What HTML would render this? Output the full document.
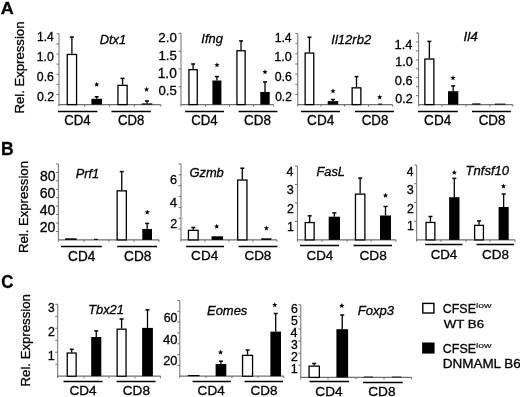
<!DOCTYPE html>
<html><head><meta charset="utf-8"><style>
html,body{margin:0;padding:0;background:#fff;width:520px;height:397px;overflow:hidden}
svg{display:block}
text{font-family:"Liberation Sans",sans-serif;fill:#000;stroke:#000;stroke-width:0.3px}
svg{filter:grayscale(1)}
</style></head><body>
<svg width="520" height="397" viewBox="0 0 520 397">
<rect width="520" height="397" fill="#fff"/>
<line x1="59.00" y1="33.80" x2="59.00" y2="106.40" stroke="#707070" stroke-width="1"/>
<line x1="58.50" y1="104.60" x2="160.80" y2="104.60" stroke="#707070" stroke-width="1.2"/>
<line x1="56.50" y1="94.49" x2="59.00" y2="94.49" stroke="#707070" stroke-width="1"/>
<line x1="56.50" y1="84.37" x2="59.00" y2="84.37" stroke="#707070" stroke-width="1"/>
<line x1="56.50" y1="74.26" x2="59.00" y2="74.26" stroke="#707070" stroke-width="1"/>
<line x1="56.50" y1="64.14" x2="59.00" y2="64.14" stroke="#707070" stroke-width="1"/>
<line x1="56.50" y1="54.03" x2="59.00" y2="54.03" stroke="#707070" stroke-width="1"/>
<line x1="56.50" y1="43.91" x2="59.00" y2="43.91" stroke="#707070" stroke-width="1"/>
<line x1="56.50" y1="33.80" x2="59.00" y2="33.80" stroke="#707070" stroke-width="1"/>
<line x1="84.60" y1="104.60" x2="84.60" y2="106.60" stroke="#707070" stroke-width="1"/>
<line x1="109.60" y1="104.60" x2="109.60" y2="106.60" stroke="#707070" stroke-width="1"/>
<line x1="134.30" y1="104.60" x2="134.30" y2="106.60" stroke="#707070" stroke-width="1"/>
<line x1="160.80" y1="104.60" x2="160.80" y2="106.60" stroke="#707070" stroke-width="1"/>
<line x1="71.90" y1="53.80" x2="71.90" y2="37.00" stroke="#000" stroke-width="1.3"/>
<line x1="69.90" y1="37.00" x2="73.90" y2="37.00" stroke="#000" stroke-width="1.5"/>
<rect x="67.25" y="54.45" width="9.30" height="50.15" fill="#fff" stroke="#000" stroke-width="1.3"/>
<line x1="96.70" y1="98.80" x2="96.70" y2="96.80" stroke="#000" stroke-width="1.3"/>
<line x1="94.70" y1="96.80" x2="98.70" y2="96.80" stroke="#000" stroke-width="1.5"/>
<rect x="91.40" y="98.80" width="10.60" height="5.80" fill="#000"/>
<line x1="122.55" y1="84.70" x2="122.55" y2="78.40" stroke="#000" stroke-width="1.3"/>
<line x1="120.55" y1="78.40" x2="124.55" y2="78.40" stroke="#000" stroke-width="1.5"/>
<rect x="117.95" y="85.35" width="9.20" height="19.25" fill="#fff" stroke="#000" stroke-width="1.3"/>
<line x1="147.00" y1="103.40" x2="147.00" y2="101.00" stroke="#000" stroke-width="1.3"/>
<line x1="145.00" y1="101.00" x2="149.00" y2="101.00" stroke="#000" stroke-width="1.5"/>
<rect x="141.70" y="103.40" width="10.60" height="1.20" fill="#000"/>
<polygon points="96.70,81.70 97.39,83.55 99.36,83.63 97.82,84.86 98.35,86.77 96.70,85.68 95.05,86.77 95.58,84.86 94.04,83.63 96.01,83.55" fill="#000"/>
<polygon points="146.60,86.70 147.29,88.55 149.26,88.63 147.72,89.86 148.25,91.77 146.60,90.68 144.95,91.77 145.48,89.86 143.94,88.63 145.91,88.55" fill="#000"/>
<line x1="58.00" y1="111.50" x2="97.40" y2="111.50" stroke="#000" stroke-width="1.4"/>
<line x1="111.50" y1="111.50" x2="150.90" y2="111.50" stroke="#000" stroke-width="1.4"/>
<text transform="translate(64.14,124.96) scale(0.944,1)" font-size="13.99">CD4</text>
<text transform="translate(118.04,124.96) scale(0.940,1)" font-size="13.99">CD8</text>
<text transform="translate(99.71,44.27) scale(0.969,1)" font-size="13.33" font-style="italic">Dtx1</text>
<text x="36.95" y="40.85" font-size="12.07">1.4</text>
<text x="36.77" y="61.23" font-size="12.30">1.0</text>
<text x="36.83" y="81.23" font-size="12.30">0.6</text>
<text x="36.92" y="100.73" font-size="12.30">0.2</text>
<line x1="181.00" y1="33.40" x2="181.00" y2="106.40" stroke="#707070" stroke-width="1"/>
<line x1="180.50" y1="104.60" x2="273.60" y2="104.60" stroke="#707070" stroke-width="1.2"/>
<line x1="178.50" y1="86.80" x2="181.00" y2="86.80" stroke="#707070" stroke-width="1"/>
<line x1="178.50" y1="69.00" x2="181.00" y2="69.00" stroke="#707070" stroke-width="1"/>
<line x1="178.50" y1="51.20" x2="181.00" y2="51.20" stroke="#707070" stroke-width="1"/>
<line x1="178.50" y1="33.40" x2="181.00" y2="33.40" stroke="#707070" stroke-width="1"/>
<line x1="205.50" y1="104.60" x2="205.50" y2="106.60" stroke="#707070" stroke-width="1"/>
<line x1="229.50" y1="104.60" x2="229.50" y2="106.60" stroke="#707070" stroke-width="1"/>
<line x1="253.50" y1="104.60" x2="253.50" y2="106.60" stroke="#707070" stroke-width="1"/>
<line x1="273.60" y1="104.60" x2="273.60" y2="106.60" stroke="#707070" stroke-width="1"/>
<line x1="193.10" y1="69.00" x2="193.10" y2="64.00" stroke="#000" stroke-width="1.3"/>
<line x1="191.10" y1="64.00" x2="195.10" y2="64.00" stroke="#000" stroke-width="1.5"/>
<rect x="188.95" y="69.65" width="8.30" height="34.95" fill="#fff" stroke="#000" stroke-width="1.3"/>
<line x1="216.90" y1="80.50" x2="216.90" y2="76.60" stroke="#000" stroke-width="1.3"/>
<line x1="214.90" y1="76.60" x2="218.90" y2="76.60" stroke="#000" stroke-width="1.5"/>
<rect x="212.40" y="80.50" width="9.00" height="24.10" fill="#000"/>
<line x1="241.05" y1="50.10" x2="241.05" y2="40.90" stroke="#000" stroke-width="1.3"/>
<line x1="239.05" y1="40.90" x2="243.05" y2="40.90" stroke="#000" stroke-width="1.5"/>
<rect x="236.95" y="50.75" width="8.20" height="53.85" fill="#fff" stroke="#000" stroke-width="1.3"/>
<line x1="265.00" y1="92.00" x2="265.00" y2="81.90" stroke="#000" stroke-width="1.3"/>
<line x1="263.00" y1="81.90" x2="267.00" y2="81.90" stroke="#000" stroke-width="1.5"/>
<rect x="260.30" y="92.00" width="9.40" height="12.60" fill="#000"/>
<polygon points="217.00,62.20 217.69,64.05 219.66,64.13 218.12,65.36 218.65,67.27 217.00,66.18 215.35,67.27 215.88,65.36 214.34,64.13 216.31,64.05" fill="#000"/>
<polygon points="265.00,69.20 265.69,71.05 267.66,71.13 266.12,72.36 266.65,74.27 265.00,73.18 263.35,74.27 263.88,72.36 262.34,71.13 264.31,71.05" fill="#000"/>
<line x1="185.10" y1="111.50" x2="224.00" y2="111.50" stroke="#000" stroke-width="1.4"/>
<line x1="238.60" y1="111.50" x2="277.40" y2="111.50" stroke="#000" stroke-width="1.4"/>
<text transform="translate(191.14,124.96) scale(0.948,1)" font-size="13.99">CD4</text>
<text transform="translate(244.03,124.96) scale(0.963,1)" font-size="13.99">CD8</text>
<text transform="translate(201.33,42.80) scale(0.957,1)" font-size="13.51" font-style="italic">Ifng</text>
<text x="158.33" y="41.62" font-size="13.29">2.0</text>
<text x="158.49" y="59.62" font-size="13.19">1.5</text>
<text x="157.76" y="78.11" font-size="13.71">1.0</text>
<text x="158.55" y="95.42" font-size="13.14">0.5</text>
<line x1="297.80" y1="33.50" x2="297.80" y2="106.40" stroke="#707070" stroke-width="1"/>
<line x1="297.30" y1="104.60" x2="392.60" y2="104.60" stroke="#707070" stroke-width="1.2"/>
<line x1="295.30" y1="94.44" x2="297.80" y2="94.44" stroke="#707070" stroke-width="1"/>
<line x1="295.30" y1="84.29" x2="297.80" y2="84.29" stroke="#707070" stroke-width="1"/>
<line x1="295.30" y1="74.13" x2="297.80" y2="74.13" stroke="#707070" stroke-width="1"/>
<line x1="295.30" y1="63.97" x2="297.80" y2="63.97" stroke="#707070" stroke-width="1"/>
<line x1="295.30" y1="53.81" x2="297.80" y2="53.81" stroke="#707070" stroke-width="1"/>
<line x1="295.30" y1="43.66" x2="297.80" y2="43.66" stroke="#707070" stroke-width="1"/>
<line x1="295.30" y1="33.50" x2="297.80" y2="33.50" stroke="#707070" stroke-width="1"/>
<line x1="321.00" y1="104.60" x2="321.00" y2="106.60" stroke="#707070" stroke-width="1"/>
<line x1="344.50" y1="104.60" x2="344.50" y2="106.60" stroke="#707070" stroke-width="1"/>
<line x1="368.50" y1="104.60" x2="368.50" y2="106.60" stroke="#707070" stroke-width="1"/>
<line x1="392.60" y1="104.60" x2="392.60" y2="106.60" stroke="#707070" stroke-width="1"/>
<line x1="309.45" y1="52.40" x2="309.45" y2="37.20" stroke="#000" stroke-width="1.3"/>
<line x1="307.45" y1="37.20" x2="311.45" y2="37.20" stroke="#000" stroke-width="1.5"/>
<rect x="305.15" y="53.05" width="8.60" height="51.55" fill="#fff" stroke="#000" stroke-width="1.3"/>
<line x1="332.95" y1="101.10" x2="332.95" y2="99.50" stroke="#000" stroke-width="1.3"/>
<line x1="330.95" y1="99.50" x2="334.95" y2="99.50" stroke="#000" stroke-width="1.5"/>
<rect x="327.70" y="101.10" width="10.50" height="3.50" fill="#000"/>
<line x1="356.50" y1="87.20" x2="356.50" y2="76.60" stroke="#000" stroke-width="1.3"/>
<line x1="354.50" y1="76.60" x2="358.50" y2="76.60" stroke="#000" stroke-width="1.5"/>
<rect x="352.15" y="87.85" width="8.70" height="16.75" fill="#fff" stroke="#000" stroke-width="1.3"/>
<rect x="378.00" y="103.60" width="4.30" height="1.00" fill="#000"/>
<polygon points="333.00,88.30 333.69,90.15 335.66,90.23 334.12,91.46 334.65,93.37 333.00,92.28 331.35,93.37 331.88,91.46 330.34,90.23 332.31,90.15" fill="#000"/>
<polygon points="379.70,94.40 380.39,96.25 382.36,96.33 380.82,97.56 381.35,99.47 379.70,98.38 378.05,99.47 378.58,97.56 377.04,96.33 379.01,96.25" fill="#000"/>
<line x1="301.00" y1="111.50" x2="340.00" y2="111.50" stroke="#000" stroke-width="1.4"/>
<line x1="355.00" y1="111.50" x2="394.00" y2="111.50" stroke="#000" stroke-width="1.4"/>
<text transform="translate(307.12,124.96) scale(0.970,1)" font-size="13.99">CD4</text>
<text transform="translate(361.63,124.96) scale(0.955,1)" font-size="13.99">CD8</text>
<text transform="translate(331.28,43.67) scale(0.971,1)" font-size="13.47" font-style="italic">Il12rb2</text>
<text x="274.65" y="41.85" font-size="12.22">1.4</text>
<text x="274.29" y="60.52" font-size="12.58">1.0</text>
<text x="274.73" y="80.83" font-size="12.30">0.6</text>
<text x="275.20" y="100.53" font-size="12.01">0.2</text>
<line x1="418.60" y1="33.00" x2="418.60" y2="106.40" stroke="#707070" stroke-width="1"/>
<line x1="418.10" y1="104.60" x2="512.80" y2="104.60" stroke="#707070" stroke-width="1.2"/>
<line x1="416.10" y1="95.65" x2="418.60" y2="95.65" stroke="#707070" stroke-width="1"/>
<line x1="416.10" y1="86.70" x2="418.60" y2="86.70" stroke="#707070" stroke-width="1"/>
<line x1="416.10" y1="77.75" x2="418.60" y2="77.75" stroke="#707070" stroke-width="1"/>
<line x1="416.10" y1="68.80" x2="418.60" y2="68.80" stroke="#707070" stroke-width="1"/>
<line x1="416.10" y1="59.85" x2="418.60" y2="59.85" stroke="#707070" stroke-width="1"/>
<line x1="416.10" y1="50.90" x2="418.60" y2="50.90" stroke="#707070" stroke-width="1"/>
<line x1="416.10" y1="41.95" x2="418.60" y2="41.95" stroke="#707070" stroke-width="1"/>
<line x1="416.10" y1="33.00" x2="418.60" y2="33.00" stroke="#707070" stroke-width="1"/>
<line x1="442.00" y1="104.60" x2="442.00" y2="106.60" stroke="#707070" stroke-width="1"/>
<line x1="466.00" y1="104.60" x2="466.00" y2="106.60" stroke="#707070" stroke-width="1"/>
<line x1="490.00" y1="104.60" x2="490.00" y2="106.60" stroke="#707070" stroke-width="1"/>
<line x1="512.80" y1="104.60" x2="512.80" y2="106.60" stroke="#707070" stroke-width="1"/>
<line x1="429.35" y1="58.40" x2="429.35" y2="41.40" stroke="#000" stroke-width="1.3"/>
<line x1="427.35" y1="41.40" x2="431.35" y2="41.40" stroke="#000" stroke-width="1.5"/>
<rect x="424.85" y="59.05" width="9.00" height="45.55" fill="#fff" stroke="#000" stroke-width="1.3"/>
<line x1="453.15" y1="91.20" x2="453.15" y2="85.90" stroke="#000" stroke-width="1.3"/>
<line x1="451.15" y1="85.90" x2="455.15" y2="85.90" stroke="#000" stroke-width="1.5"/>
<rect x="448.00" y="91.20" width="10.30" height="13.40" fill="#000"/>
<rect x="472.30" y="103.40" width="8.20" height="1.20" fill="#000"/>
<rect x="494.80" y="103.60" width="10.60" height="1.00" fill="#000"/>
<polygon points="453.00,75.20 453.69,77.05 455.66,77.13 454.12,78.36 454.65,80.27 453.00,79.18 451.35,80.27 451.88,78.36 450.34,77.13 452.31,77.05" fill="#000"/>
<line x1="418.00" y1="111.50" x2="457.80" y2="111.50" stroke="#000" stroke-width="1.4"/>
<line x1="472.00" y1="111.50" x2="510.90" y2="111.50" stroke="#000" stroke-width="1.4"/>
<text transform="translate(424.12,125.35) scale(0.933,1)" font-size="14.56">CD4</text>
<text transform="translate(478.63,125.35) scale(0.918,1)" font-size="14.56">CD8</text>
<text transform="translate(463.46,41.30) scale(1.028,1)" font-size="13.24" font-style="italic">Il4</text>
<text x="394.56" y="48.75" font-size="12.95">1.4</text>
<text x="395.19" y="66.32" font-size="12.58">1.0</text>
<text x="394.87" y="85.02" font-size="12.86">0.6</text>
<text x="395.34" y="102.92" font-size="12.58">0.2</text>
<line x1="58.40" y1="164.00" x2="58.40" y2="241.70" stroke="#707070" stroke-width="1"/>
<line x1="57.90" y1="239.90" x2="159.00" y2="239.90" stroke="#707070" stroke-width="1.2"/>
<line x1="55.90" y1="231.47" x2="58.40" y2="231.47" stroke="#707070" stroke-width="1"/>
<line x1="55.90" y1="223.03" x2="58.40" y2="223.03" stroke="#707070" stroke-width="1"/>
<line x1="55.90" y1="214.60" x2="58.40" y2="214.60" stroke="#707070" stroke-width="1"/>
<line x1="55.90" y1="206.17" x2="58.40" y2="206.17" stroke="#707070" stroke-width="1"/>
<line x1="55.90" y1="197.73" x2="58.40" y2="197.73" stroke="#707070" stroke-width="1"/>
<line x1="55.90" y1="189.30" x2="58.40" y2="189.30" stroke="#707070" stroke-width="1"/>
<line x1="55.90" y1="180.87" x2="58.40" y2="180.87" stroke="#707070" stroke-width="1"/>
<line x1="55.90" y1="172.43" x2="58.40" y2="172.43" stroke="#707070" stroke-width="1"/>
<line x1="55.90" y1="164.00" x2="58.40" y2="164.00" stroke="#707070" stroke-width="1"/>
<line x1="84.00" y1="239.90" x2="84.00" y2="241.90" stroke="#707070" stroke-width="1"/>
<line x1="109.00" y1="239.90" x2="109.00" y2="241.90" stroke="#707070" stroke-width="1"/>
<line x1="134.00" y1="239.90" x2="134.00" y2="241.90" stroke="#707070" stroke-width="1"/>
<line x1="159.00" y1="239.90" x2="159.00" y2="241.90" stroke="#707070" stroke-width="1"/>
<rect x="65.10" y="238.30" width="11.60" height="1.60" fill="#000"/>
<rect x="94.00" y="238.80" width="3.80" height="1.10" fill="#000"/>
<line x1="121.75" y1="190.20" x2="121.75" y2="171.60" stroke="#000" stroke-width="1.3"/>
<line x1="119.75" y1="171.60" x2="123.75" y2="171.60" stroke="#000" stroke-width="1.5"/>
<rect x="117.15" y="190.85" width="9.20" height="49.05" fill="#fff" stroke="#000" stroke-width="1.3"/>
<line x1="147.15" y1="229.00" x2="147.15" y2="223.40" stroke="#000" stroke-width="1.3"/>
<line x1="145.15" y1="223.40" x2="149.15" y2="223.40" stroke="#000" stroke-width="1.5"/>
<rect x="142.30" y="229.00" width="9.70" height="10.90" fill="#000"/>
<polygon points="147.30,209.50 147.99,211.35 149.96,211.43 148.42,212.66 148.95,214.57 147.30,213.48 145.65,214.57 146.18,212.66 144.64,211.43 146.61,211.35" fill="#000"/>
<line x1="61.00" y1="246.50" x2="101.80" y2="246.50" stroke="#000" stroke-width="1.4"/>
<line x1="117.20" y1="246.50" x2="157.00" y2="246.50" stroke="#000" stroke-width="1.4"/>
<text transform="translate(68.12,260.96) scale(0.970,1)" font-size="13.99">CD4</text>
<text transform="translate(124.12,260.96) scale(0.974,1)" font-size="13.99">CD8</text>
<text transform="translate(75.71,177.80) scale(0.941,1)" font-size="13.66" font-style="italic">Prf1</text>
<text x="39.89" y="180.61" font-size="13.99">80</text>
<text x="39.74" y="197.81" font-size="14.13">60</text>
<text x="39.74" y="214.91" font-size="14.13">40</text>
<text x="39.74" y="231.71" font-size="14.13">20</text>
<line x1="181.00" y1="164.00" x2="181.00" y2="241.70" stroke="#707070" stroke-width="1"/>
<line x1="180.50" y1="239.90" x2="277.00" y2="239.90" stroke="#707070" stroke-width="1.2"/>
<line x1="178.50" y1="229.06" x2="181.00" y2="229.06" stroke="#707070" stroke-width="1"/>
<line x1="178.50" y1="218.21" x2="181.00" y2="218.21" stroke="#707070" stroke-width="1"/>
<line x1="178.50" y1="207.37" x2="181.00" y2="207.37" stroke="#707070" stroke-width="1"/>
<line x1="178.50" y1="196.53" x2="181.00" y2="196.53" stroke="#707070" stroke-width="1"/>
<line x1="178.50" y1="185.69" x2="181.00" y2="185.69" stroke="#707070" stroke-width="1"/>
<line x1="178.50" y1="174.84" x2="181.00" y2="174.84" stroke="#707070" stroke-width="1"/>
<line x1="178.50" y1="164.00" x2="181.00" y2="164.00" stroke="#707070" stroke-width="1"/>
<line x1="205.00" y1="239.90" x2="205.00" y2="241.90" stroke="#707070" stroke-width="1"/>
<line x1="229.00" y1="239.90" x2="229.00" y2="241.90" stroke="#707070" stroke-width="1"/>
<line x1="253.00" y1="239.90" x2="253.00" y2="241.90" stroke="#707070" stroke-width="1"/>
<line x1="277.00" y1="239.90" x2="277.00" y2="241.90" stroke="#707070" stroke-width="1"/>
<line x1="193.30" y1="229.70" x2="193.30" y2="227.50" stroke="#000" stroke-width="1.3"/>
<line x1="191.30" y1="227.50" x2="195.30" y2="227.50" stroke="#000" stroke-width="1.5"/>
<rect x="188.45" y="230.35" width="9.70" height="9.55" fill="#fff" stroke="#000" stroke-width="1.3"/>
<rect x="211.60" y="236.30" width="11.40" height="3.60" fill="#000"/>
<line x1="242.30" y1="179.40" x2="242.30" y2="168.20" stroke="#000" stroke-width="1.3"/>
<line x1="240.30" y1="168.20" x2="244.30" y2="168.20" stroke="#000" stroke-width="1.5"/>
<rect x="237.65" y="180.05" width="9.30" height="59.85" fill="#fff" stroke="#000" stroke-width="1.3"/>
<rect x="261.20" y="238.30" width="10.10" height="1.60" fill="#000"/>
<polygon points="216.70,223.70 217.39,225.55 219.36,225.63 217.82,226.86 218.35,228.77 216.70,227.68 215.05,228.77 215.58,226.86 214.04,225.63 216.01,225.55" fill="#000"/>
<polygon points="266.40,225.40 267.09,227.25 269.06,227.33 267.52,228.56 268.05,230.47 266.40,229.38 264.75,230.47 265.28,228.56 263.74,227.33 265.71,227.25" fill="#000"/>
<line x1="186.10" y1="246.50" x2="224.00" y2="246.50" stroke="#000" stroke-width="1.4"/>
<line x1="238.60" y1="246.50" x2="277.40" y2="246.50" stroke="#000" stroke-width="1.4"/>
<text transform="translate(191.12,260.37) scale(1.033,1)" font-size="13.14">CD4</text>
<text transform="translate(244.43,260.37) scale(1.025,1)" font-size="13.14">CD8</text>
<text transform="translate(189.46,177.47) scale(1.018,1)" font-size="12.65" font-style="italic">Gzmb</text>
<text x="170.08" y="183.72" font-size="12.72">6</text>
<text x="169.69" y="206.65" font-size="13.09">4</text>
<text x="170.23" y="228.05" font-size="12.62">2</text>
<line x1="297.40" y1="166.00" x2="297.40" y2="241.70" stroke="#707070" stroke-width="1"/>
<line x1="296.90" y1="239.90" x2="396.00" y2="239.90" stroke="#707070" stroke-width="1.2"/>
<line x1="294.90" y1="221.43" x2="297.40" y2="221.43" stroke="#707070" stroke-width="1"/>
<line x1="294.90" y1="202.95" x2="297.40" y2="202.95" stroke="#707070" stroke-width="1"/>
<line x1="294.90" y1="184.47" x2="297.40" y2="184.47" stroke="#707070" stroke-width="1"/>
<line x1="294.90" y1="166.00" x2="297.40" y2="166.00" stroke="#707070" stroke-width="1"/>
<line x1="322.00" y1="239.90" x2="322.00" y2="241.90" stroke="#707070" stroke-width="1"/>
<line x1="347.00" y1="239.90" x2="347.00" y2="241.90" stroke="#707070" stroke-width="1"/>
<line x1="371.00" y1="239.90" x2="371.00" y2="241.90" stroke="#707070" stroke-width="1"/>
<line x1="396.00" y1="239.90" x2="396.00" y2="241.90" stroke="#707070" stroke-width="1"/>
<line x1="309.70" y1="221.90" x2="309.70" y2="215.80" stroke="#000" stroke-width="1.3"/>
<line x1="307.70" y1="215.80" x2="311.70" y2="215.80" stroke="#000" stroke-width="1.5"/>
<rect x="305.25" y="222.55" width="8.90" height="17.35" fill="#fff" stroke="#000" stroke-width="1.3"/>
<line x1="334.35" y1="216.70" x2="334.35" y2="212.90" stroke="#000" stroke-width="1.3"/>
<line x1="332.35" y1="212.90" x2="336.35" y2="212.90" stroke="#000" stroke-width="1.5"/>
<rect x="328.70" y="216.70" width="11.30" height="23.20" fill="#000"/>
<line x1="360.15" y1="193.50" x2="360.15" y2="178.10" stroke="#000" stroke-width="1.3"/>
<line x1="358.15" y1="178.10" x2="362.15" y2="178.10" stroke="#000" stroke-width="1.5"/>
<rect x="355.45" y="194.15" width="9.40" height="45.75" fill="#fff" stroke="#000" stroke-width="1.3"/>
<line x1="385.50" y1="215.50" x2="385.50" y2="206.50" stroke="#000" stroke-width="1.3"/>
<line x1="383.50" y1="206.50" x2="387.50" y2="206.50" stroke="#000" stroke-width="1.5"/>
<rect x="380.00" y="215.50" width="11.00" height="24.40" fill="#000"/>
<polygon points="385.50,192.70 386.19,194.55 388.16,194.63 386.62,195.86 387.15,197.77 385.50,196.68 383.85,197.77 384.38,195.86 382.84,194.63 384.81,194.55" fill="#000"/>
<line x1="300.00" y1="245.50" x2="339.00" y2="245.50" stroke="#000" stroke-width="1.4"/>
<line x1="353.60" y1="245.50" x2="392.00" y2="245.50" stroke="#000" stroke-width="1.4"/>
<text transform="translate(306.53,259.57) scale(0.996,1)" font-size="13.43">CD4</text>
<text transform="translate(359.42,259.57) scale(1.019,1)" font-size="13.43">CD8</text>
<text transform="translate(316.52,175.97) scale(0.961,1)" font-size="13.33" font-style="italic">FasL</text>
<text x="286.60" y="175.95" font-size="12.51">4</text>
<text x="286.75" y="194.32" font-size="12.58">3</text>
<text x="286.97" y="212.65" font-size="12.33">2</text>
<text x="286.93" y="230.75" font-size="12.36">1</text>
<line x1="416.70" y1="165.00" x2="416.70" y2="241.70" stroke="#707070" stroke-width="1"/>
<line x1="416.20" y1="239.90" x2="515.00" y2="239.90" stroke="#707070" stroke-width="1.2"/>
<line x1="414.20" y1="221.18" x2="416.70" y2="221.18" stroke="#707070" stroke-width="1"/>
<line x1="414.20" y1="202.45" x2="416.70" y2="202.45" stroke="#707070" stroke-width="1"/>
<line x1="414.20" y1="183.72" x2="416.70" y2="183.72" stroke="#707070" stroke-width="1"/>
<line x1="414.20" y1="165.00" x2="416.70" y2="165.00" stroke="#707070" stroke-width="1"/>
<line x1="441.00" y1="239.90" x2="441.00" y2="241.90" stroke="#707070" stroke-width="1"/>
<line x1="466.00" y1="239.90" x2="466.00" y2="241.90" stroke="#707070" stroke-width="1"/>
<line x1="490.00" y1="239.90" x2="490.00" y2="241.90" stroke="#707070" stroke-width="1"/>
<line x1="515.00" y1="239.90" x2="515.00" y2="241.90" stroke="#707070" stroke-width="1"/>
<line x1="430.45" y1="221.80" x2="430.45" y2="216.50" stroke="#000" stroke-width="1.3"/>
<line x1="428.45" y1="216.50" x2="432.45" y2="216.50" stroke="#000" stroke-width="1.5"/>
<rect x="426.05" y="222.45" width="8.80" height="17.45" fill="#fff" stroke="#000" stroke-width="1.3"/>
<line x1="454.30" y1="197.20" x2="454.30" y2="178.40" stroke="#000" stroke-width="1.3"/>
<line x1="452.30" y1="178.40" x2="456.30" y2="178.40" stroke="#000" stroke-width="1.5"/>
<rect x="449.10" y="197.20" width="10.40" height="42.70" fill="#000"/>
<line x1="479.05" y1="224.70" x2="479.05" y2="220.90" stroke="#000" stroke-width="1.3"/>
<line x1="477.05" y1="220.90" x2="481.05" y2="220.90" stroke="#000" stroke-width="1.5"/>
<rect x="474.65" y="225.35" width="8.80" height="14.55" fill="#fff" stroke="#000" stroke-width="1.3"/>
<line x1="503.65" y1="207.00" x2="503.65" y2="194.00" stroke="#000" stroke-width="1.3"/>
<line x1="501.65" y1="194.00" x2="505.65" y2="194.00" stroke="#000" stroke-width="1.5"/>
<rect x="498.60" y="207.00" width="10.10" height="32.90" fill="#000"/>
<polygon points="454.30,169.80 454.99,171.65 456.96,171.73 455.42,172.96 455.95,174.87 454.30,173.78 452.65,174.87 453.18,172.96 451.64,171.73 453.61,171.65" fill="#000"/>
<polygon points="503.50,183.40 504.19,185.25 506.16,185.33 504.62,186.56 505.15,188.47 503.50,187.38 501.85,188.47 502.38,186.56 500.84,185.33 502.81,185.25" fill="#000"/>
<line x1="425.10" y1="244.50" x2="462.50" y2="244.50" stroke="#000" stroke-width="1.4"/>
<line x1="476.60" y1="244.50" x2="514.00" y2="244.50" stroke="#000" stroke-width="1.4"/>
<text transform="translate(430.63,258.97) scale(1.013,1)" font-size="13.14">CD4</text>
<text transform="translate(482.03,258.97) scale(1.025,1)" font-size="13.14">CD8</text>
<text transform="translate(465.52,175.27) scale(1.035,1)" font-size="12.65" font-style="italic">Tnfsf10</text>
<text x="406.75" y="175.75" font-size="12.22">4</text>
<text x="406.75" y="194.32" font-size="12.58">3</text>
<text x="406.97" y="212.65" font-size="12.33">2</text>
<text x="406.93" y="230.35" font-size="12.36">1</text>
<line x1="57.70" y1="304.30" x2="57.70" y2="378.00" stroke="#707070" stroke-width="1"/>
<line x1="57.20" y1="376.20" x2="160.50" y2="376.20" stroke="#707070" stroke-width="1.2"/>
<line x1="55.20" y1="364.22" x2="57.70" y2="364.22" stroke="#707070" stroke-width="1"/>
<line x1="55.20" y1="352.23" x2="57.70" y2="352.23" stroke="#707070" stroke-width="1"/>
<line x1="55.20" y1="340.25" x2="57.70" y2="340.25" stroke="#707070" stroke-width="1"/>
<line x1="55.20" y1="328.27" x2="57.70" y2="328.27" stroke="#707070" stroke-width="1"/>
<line x1="55.20" y1="316.28" x2="57.70" y2="316.28" stroke="#707070" stroke-width="1"/>
<line x1="55.20" y1="304.30" x2="57.70" y2="304.30" stroke="#707070" stroke-width="1"/>
<line x1="84.00" y1="376.20" x2="84.00" y2="378.20" stroke="#707070" stroke-width="1"/>
<line x1="109.00" y1="376.20" x2="109.00" y2="378.20" stroke="#707070" stroke-width="1"/>
<line x1="135.00" y1="376.20" x2="135.00" y2="378.20" stroke="#707070" stroke-width="1"/>
<line x1="160.50" y1="376.20" x2="160.50" y2="378.20" stroke="#707070" stroke-width="1"/>
<line x1="71.70" y1="352.40" x2="71.70" y2="349.30" stroke="#000" stroke-width="1.3"/>
<line x1="69.70" y1="349.30" x2="73.70" y2="349.30" stroke="#000" stroke-width="1.5"/>
<rect x="67.25" y="353.05" width="8.90" height="23.15" fill="#fff" stroke="#000" stroke-width="1.3"/>
<line x1="96.25" y1="337.00" x2="96.25" y2="330.90" stroke="#000" stroke-width="1.3"/>
<line x1="94.25" y1="330.90" x2="98.25" y2="330.90" stroke="#000" stroke-width="1.5"/>
<rect x="91.20" y="337.00" width="10.10" height="39.20" fill="#000"/>
<line x1="121.60" y1="328.50" x2="121.60" y2="319.00" stroke="#000" stroke-width="1.3"/>
<line x1="119.60" y1="319.00" x2="123.60" y2="319.00" stroke="#000" stroke-width="1.5"/>
<rect x="117.15" y="329.15" width="8.90" height="47.05" fill="#fff" stroke="#000" stroke-width="1.3"/>
<line x1="147.50" y1="327.90" x2="147.50" y2="309.80" stroke="#000" stroke-width="1.3"/>
<line x1="145.50" y1="309.80" x2="149.50" y2="309.80" stroke="#000" stroke-width="1.5"/>
<rect x="142.10" y="327.90" width="10.80" height="48.30" fill="#000"/>
<line x1="63.50" y1="381.50" x2="102.50" y2="381.50" stroke="#000" stroke-width="1.4"/>
<line x1="116.60" y1="381.50" x2="155.60" y2="381.50" stroke="#000" stroke-width="1.4"/>
<text transform="translate(69.52,394.97) scale(1.033,1)" font-size="13.14">CD4</text>
<text transform="translate(122.72,394.97) scale(1.037,1)" font-size="13.14">CD8</text>
<text transform="translate(88.14,314.47) scale(0.974,1)" font-size="13.20" font-style="italic">Tbx21</text>
<text x="48.04" y="311.73" font-size="12.01">3</text>
<text x="47.97" y="336.15" font-size="12.33">2</text>
<text x="47.85" y="359.75" font-size="12.51">1</text>
<line x1="179.80" y1="300.50" x2="179.80" y2="378.00" stroke="#707070" stroke-width="1"/>
<line x1="179.30" y1="376.20" x2="283.90" y2="376.20" stroke="#707070" stroke-width="1.2"/>
<line x1="177.30" y1="365.39" x2="179.80" y2="365.39" stroke="#707070" stroke-width="1"/>
<line x1="177.30" y1="354.57" x2="179.80" y2="354.57" stroke="#707070" stroke-width="1"/>
<line x1="177.30" y1="343.76" x2="179.80" y2="343.76" stroke="#707070" stroke-width="1"/>
<line x1="177.30" y1="332.94" x2="179.80" y2="332.94" stroke="#707070" stroke-width="1"/>
<line x1="177.30" y1="322.13" x2="179.80" y2="322.13" stroke="#707070" stroke-width="1"/>
<line x1="177.30" y1="311.31" x2="179.80" y2="311.31" stroke="#707070" stroke-width="1"/>
<line x1="177.30" y1="300.50" x2="179.80" y2="300.50" stroke="#707070" stroke-width="1"/>
<line x1="206.00" y1="376.20" x2="206.00" y2="378.20" stroke="#707070" stroke-width="1"/>
<line x1="232.00" y1="376.20" x2="232.00" y2="378.20" stroke="#707070" stroke-width="1"/>
<line x1="258.00" y1="376.20" x2="258.00" y2="378.20" stroke="#707070" stroke-width="1"/>
<line x1="283.90" y1="376.20" x2="283.90" y2="378.20" stroke="#707070" stroke-width="1"/>
<rect x="187.80" y="375.00" width="11.70" height="1.20" fill="#000"/>
<line x1="220.95" y1="364.00" x2="220.95" y2="361.20" stroke="#000" stroke-width="1.3"/>
<line x1="218.95" y1="361.20" x2="222.95" y2="361.20" stroke="#000" stroke-width="1.5"/>
<rect x="215.60" y="364.00" width="10.70" height="12.20" fill="#000"/>
<line x1="247.55" y1="354.70" x2="247.55" y2="350.00" stroke="#000" stroke-width="1.3"/>
<line x1="245.55" y1="350.00" x2="249.55" y2="350.00" stroke="#000" stroke-width="1.5"/>
<rect x="242.55" y="355.35" width="10.00" height="20.85" fill="#fff" stroke="#000" stroke-width="1.3"/>
<line x1="275.70" y1="331.60" x2="275.70" y2="313.50" stroke="#000" stroke-width="1.3"/>
<line x1="273.70" y1="313.50" x2="277.70" y2="313.50" stroke="#000" stroke-width="1.5"/>
<rect x="270.40" y="331.60" width="10.60" height="44.60" fill="#000"/>
<polygon points="220.60,349.60 221.29,351.45 223.26,351.53 221.72,352.76 222.25,354.67 220.60,353.58 218.95,354.67 219.48,352.76 217.94,351.53 219.91,351.45" fill="#000"/>
<polygon points="274.80,302.20 275.49,304.05 277.46,304.13 275.92,305.36 276.45,307.27 274.80,306.18 273.15,307.27 273.68,305.36 272.14,304.13 274.11,304.05" fill="#000"/>
<line x1="192.50" y1="381.50" x2="230.90" y2="381.50" stroke="#000" stroke-width="1.4"/>
<line x1="244.60" y1="381.50" x2="283.00" y2="381.50" stroke="#000" stroke-width="1.4"/>
<text transform="translate(197.62,394.97) scale(1.029,1)" font-size="13.14">CD4</text>
<text transform="translate(250.53,394.97) scale(1.025,1)" font-size="13.14">CD8</text>
<text transform="translate(207.01,315.17) scale(0.962,1)" font-size="13.48" font-style="italic">Eomes</text>
<text x="163.66" y="321.93" font-size="12.44">60</text>
<text x="163.05" y="344.02" font-size="13.00">40</text>
<text x="163.21" y="365.22" font-size="12.86">20</text>
<line x1="300.80" y1="304.80" x2="300.80" y2="379.20" stroke="#707070" stroke-width="1"/>
<line x1="300.30" y1="377.40" x2="411.60" y2="377.40" stroke="#707070" stroke-width="1.2"/>
<line x1="298.30" y1="365.30" x2="300.80" y2="365.30" stroke="#707070" stroke-width="1"/>
<line x1="298.30" y1="353.20" x2="300.80" y2="353.20" stroke="#707070" stroke-width="1"/>
<line x1="298.30" y1="341.10" x2="300.80" y2="341.10" stroke="#707070" stroke-width="1"/>
<line x1="298.30" y1="329.00" x2="300.80" y2="329.00" stroke="#707070" stroke-width="1"/>
<line x1="298.30" y1="316.90" x2="300.80" y2="316.90" stroke="#707070" stroke-width="1"/>
<line x1="298.30" y1="304.80" x2="300.80" y2="304.80" stroke="#707070" stroke-width="1"/>
<line x1="328.00" y1="377.40" x2="328.00" y2="379.40" stroke="#707070" stroke-width="1"/>
<line x1="356.00" y1="377.40" x2="356.00" y2="379.40" stroke="#707070" stroke-width="1"/>
<line x1="384.00" y1="377.40" x2="384.00" y2="379.40" stroke="#707070" stroke-width="1"/>
<line x1="411.60" y1="377.40" x2="411.60" y2="379.40" stroke="#707070" stroke-width="1"/>
<line x1="314.20" y1="365.50" x2="314.20" y2="363.50" stroke="#000" stroke-width="1.3"/>
<line x1="312.20" y1="363.50" x2="316.20" y2="363.50" stroke="#000" stroke-width="1.5"/>
<rect x="309.05" y="366.15" width="10.30" height="11.25" fill="#fff" stroke="#000" stroke-width="1.3"/>
<line x1="342.25" y1="329.20" x2="342.25" y2="315.00" stroke="#000" stroke-width="1.3"/>
<line x1="340.25" y1="315.00" x2="344.25" y2="315.00" stroke="#000" stroke-width="1.5"/>
<rect x="336.40" y="329.20" width="11.70" height="48.20" fill="#000"/>
<rect x="363.70" y="376.60" width="9.30" height="0.80" fill="#000"/>
<rect x="392.00" y="376.60" width="9.40" height="0.80" fill="#000"/>
<polygon points="341.80,303.00 342.49,304.85 344.46,304.93 342.92,306.16 343.45,308.07 341.80,306.98 340.15,308.07 340.68,306.16 339.14,304.93 341.11,304.85" fill="#000"/>
<line x1="309.50" y1="381.50" x2="349.00" y2="381.50" stroke="#000" stroke-width="1.4"/>
<line x1="363.10" y1="382.50" x2="402.75" y2="382.50" stroke="#000" stroke-width="1.4"/>
<text transform="translate(315.32,395.67) scale(1.037,1)" font-size="13.14">CD4</text>
<text transform="translate(368.21,395.67) scale(1.045,1)" font-size="13.14">CD8</text>
<text transform="translate(357.71,314.94) scale(1.019,1)" font-size="12.82" font-style="italic">Foxp3</text>
<text x="290.97" y="312.73" font-size="12.16">6</text>
<text x="290.92" y="324.83" font-size="12.19">5</text>
<text x="290.60" y="337.15" font-size="12.51">4</text>
<text x="290.97" y="349.13" font-size="12.16">3</text>
<text x="290.97" y="361.35" font-size="12.33">2</text>
<text x="290.85" y="373.45" font-size="12.51">1</text>
<text transform="translate(0.65,13.50) scale(1.043,1)" font-size="17.31" font-weight="bold">A</text>
<text transform="translate(1.02,155.40) scale(0.965,1)" font-size="18.18" font-weight="bold">B</text>
<text transform="translate(1.23,288.32) scale(0.939,1)" font-size="17.88" font-weight="bold">C</text>
<text transform="translate(24.19,113.59) rotate(-90) scale(1.006,1)" font-size="13.08">Rel. Expression</text>
<text transform="translate(27.69,253.09) rotate(-90) scale(1.006,1)" font-size="13.08">Rel. Expression</text>
<text transform="translate(29.86,386.49) rotate(-90) scale(1.001,1)" font-size="13.19">Rel. Expression</text>
<rect x="422.8" y="303.4" width="11.1" height="9.6" fill="#fff" stroke="#000" stroke-width="1.4"/>
<rect x="422.1" y="342.5" width="12.5" height="11.1" fill="#000"/>
<text transform="translate(442.78,312.97) scale(0.928,1)" font-size="13.43">CFSE</text>
<text transform="translate(476.00,307.93) scale(1.468,1)" font-size="7.07" style="stroke-width:0.1px">low</text>
<text transform="translate(443.73,328.09) scale(1.192,1)" font-size="11.17">WT B6</text>
<text transform="translate(442.78,352.77) scale(0.948,1)" font-size="13.14">CFSE</text>
<text transform="translate(476.00,347.93) scale(1.468,1)" font-size="7.07" style="stroke-width:0.1px">low</text>
<text transform="translate(442.69,368.47) scale(1.073,1)" font-size="12.58">DNMAML B6</text>
</svg>
</body></html>
